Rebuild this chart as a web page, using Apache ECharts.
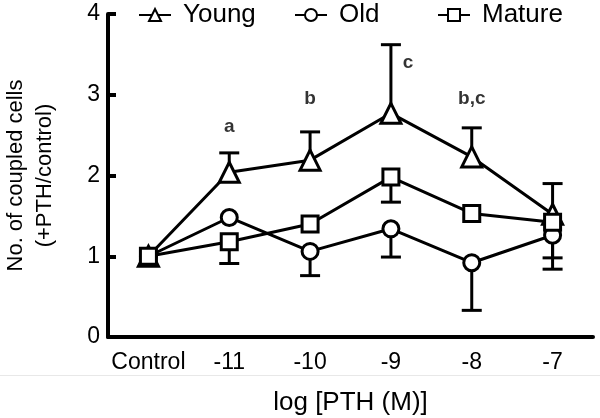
<!DOCTYPE html>
<html><head><meta charset="utf-8">
<script src="https://cdn.jsdelivr.net/npm/echarts@6/dist/echarts.min.js"></script>
<style>html,body{margin:0;padding:0;background:#fff}#c{width:600px;height:418px}</style>
</head><body><div id="c"></div>
<script>
var categories = ['Control', '-11', '-10', '-9', '-8', '-7'];
var young = [1, 2.04, 2.19, 2.77, 2.23, 1.52];
var youngErr = [0, 0.24, 0.35, 0.85, 0.36, 0.38];   // upward
var old = [1, 1.48, 1.06, 1.34, 0.92, 1.26];
var oldErr = [0, 0, 0.30, 0.35, 0.59, 0.42];        // downward
var mature = [1, 1.18, 1.40, 1.98, 1.53, 1.42];
var matureErr = [0, 0.27, 0, 0.31, 0, 0.44];        // downward
var yTicks = [0, 1, 2, 3, 4];
var annotations = [['-11', 2.6, 'a', 0], ['-10', 2.95, 'b', 0], ['-9', 3.4, 'c', 17], ['-8', 2.95, 'b,c', 0]];

var FONT = 'Liberation Sans, Arial, Helvetica, sans-serif';

function errSeries(vals, errs, dir) {
  return {
    type: 'custom', z: 1, silent: true,
    data: vals.map(function (v, i) { return [i, v, v + dir * errs[i]]; }),
    renderItem: function (params, api) {
      if (api.value(1) === api.value(2)) return null;
      var p0 = api.coord([api.value(0), api.value(1)]);
      var p1 = api.coord([api.value(0), api.value(2)]);
      var hw = 10;
      var st = { stroke: '#000', lineWidth: 3 };
      return { type: 'group', children: [
        { type: 'line', shape: { x1: p0[0], y1: p0[1], x2: p1[0], y2: p1[1] }, style: st },
        { type: 'line', shape: { x1: p1[0] - hw, y1: p1[1], x2: p1[0] + hw, y2: p1[1] }, style: st }
      ] };
    }
  };
}

function lineSeries(name, vals, symbol, size) {
  return {
    name: name, type: 'line', data: vals, symbol: symbol, symbolSize: size, z: 3,
    showAllSymbol: true,
    lineStyle: { color: '#000', width: 3 },
    itemStyle: { color: '#fff', borderColor: '#000', borderWidth: 3 },
    emphasis: { disabled: true }
  };
}

function legendFor(name, left) {
  return {
    top: 2, left: left, itemWidth: 32, itemHeight: 15, padding: 0,
    data: [name],
    textStyle: { fontSize: 26, color: '#000', fontFamily: FONT, padding: [0, 0, 0, 7] }
  };
}

var chart = echarts.init(document.getElementById('c'), null, { renderer: 'canvas' });
chart.setOption({
  animation: false,
  backgroundColor: '#fff',
  textStyle: { fontFamily: FONT },
  legend: [legendFor('Young', 138), legendFor('Old', 294), legendFor('Mature', 437)],
  grid: { left: 108, right: 7, top: 14, bottom: 81, containLabel: false, outerBoundsMode: 'none' },
  xAxis: {
    type: 'category', data: categories, boundaryGap: true,
    axisLine: { lineStyle: { color: '#000', width: 4 } },
    axisTick: { alignWithLabel: true, interval: 0, length: 8, lineStyle: { color: '#000', width: 4 } },
    axisLabel: { fontSize: 23, color: '#000', margin: 14, interval: 0, hideOverlap: false },
    name: 'log [PTH (M)]', nameLocation: 'middle', nameGap: 53,
    nameTextStyle: { fontSize: 26, color: '#000' }
  },
  yAxis: {
    type: 'value', min: 0, max: 4, interval: 1,
    axisLine: { show: true, lineStyle: { color: '#000', width: 4 } },
    axisTick: { show: true, inside: true, length: 8, lineStyle: { color: '#000', width: 4 } },
    splitLine: { show: false },
    axisLabel: { fontSize: 23, color: '#000', margin: 8,
      formatter: function (v) { return yTicks.indexOf(v) >= 0 ? String(v) : ''; } },
    name: 'No. of coupled cells\n(+PTH/control)', nameLocation: 'middle', nameGap: 49,
    nameTextStyle: { fontSize: 22, color: '#000', lineHeight: 29 }
  },
  graphic: [{ type: 'line', shape: { x1: 0, y1: 375.5, x2: 600, y2: 375.5 }, style: { stroke: '#e8e8e8', lineWidth: 1 } }],
  series: [
    errSeries(young, youngErr, 1),
    errSeries(old, oldErr, -1),
    errSeries(mature, matureErr, -1),
    lineSeries('Young', young, 'triangle', 20),
    lineSeries('Old', old, 'circle', 16),
    lineSeries('Mature', mature, 'rect', 16),
    {
      type: 'scatter', symbolSize: 0, z: 4, silent: true,
      data: annotations.map(function (a) { return { value: [a[0], a[1]], label: { show: true, formatter: a[2], offset: [a[3], 0] } }; }),
      label: { position: 'inside', fontSize: 19, fontWeight: 'bold', color: '#000' }
    }
  ]
});
</script></body></html>
